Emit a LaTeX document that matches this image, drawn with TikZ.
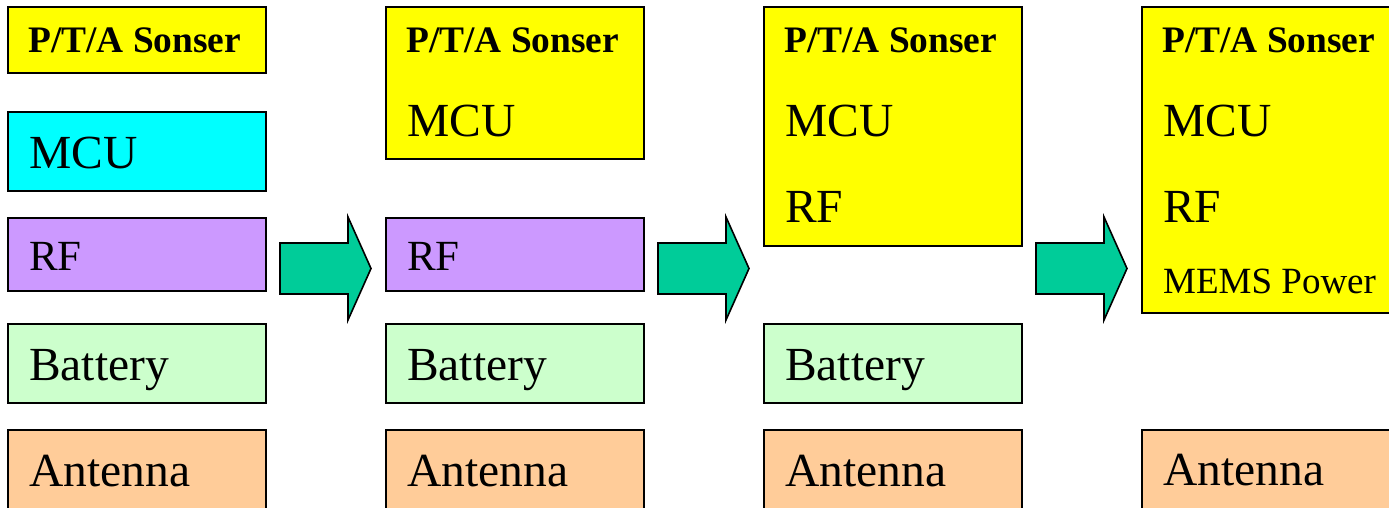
\documentclass[tikz,border=0pt]{standalone}
\usepackage{fontspec}
\setmainfont{Liberation Serif}
\definecolor{cyellow}{HTML}{FFFF00}
\definecolor{ccyan}{HTML}{00FFFF}
\definecolor{cpurple}{HTML}{CC99FF}
\definecolor{cgreen}{HTML}{CCFFCC}
\definecolor{corange}{HTML}{FFCC99}
\definecolor{carrow}{HTML}{00CC99}
\tikzset{
  blk/.style={draw=black, line width=1.6pt, rectangle, anchor=north west, inner sep=0pt, minimum width=258pt},
  big/.style={anchor=base west, inner sep=0pt, font=\fontsize{47.5}{47.5}\selectfont},
  mid/.style={anchor=base west, inner sep=0pt, font=\fontsize{43}{43}\selectfont},
  small/.style={anchor=base west, inner sep=0pt, font=\fontsize{37}{37}\selectfont},
  bld/.style={anchor=base west, inner sep=0pt, font=\fontsize{37.4}{37.4}\selectfont\bfseries},
  fatarrow/.style={draw=black, line width=1.6pt, fill=carrow, line join=miter}
}
\begin{document}
\begin{tikzpicture}[x=1pt,y=-1pt]
\clip (0,0) rectangle (1389,508);
\fill[white] (0,0) rectangle (1389,508);
% column 1
\node[blk, fill=cyellow, minimum height=66pt] (s1) at (7,6) {};
\node[blk, fill=ccyan, minimum height=79pt] (m1) at (7,111) {};
\node[blk, fill=cpurple, minimum height=73pt] (r1) at (7,217) {};
\node[blk, fill=cgreen, minimum height=79pt] (b1) at (7,323) {};
\node[blk, fill=corange, minimum height=90pt] (a1) at (7,429) {};
\node[bld] (s1t) at (28,53) {P/T/A Sonser};
\node[big] (m1t) at (29,168) {MCU};
\node[mid] (r1t) at (29,270) {RF};
\node[big] (b1t) at (29,380) {Battery};
\node[big] (a1t) at (29,486) {Antenna};
% column 2
\node[blk, fill=cyellow, minimum height=152pt] (s2) at (385,6) {};
\node[blk, fill=cpurple, minimum height=73pt] (r2) at (385,217) {};
\node[blk, fill=cgreen, minimum height=79pt] (b2) at (385,323) {};
\node[blk, fill=corange, minimum height=90pt] (a2) at (385,429) {};
\node[bld] (s2t) at (406,53) {P/T/A Sonser};
\node[big] (m2t) at (407,137) {MCU};
\node[mid] (r2t) at (407,270) {RF};
\node[big] (b2t) at (407,380) {Battery};
\node[big] (a2t) at (407,486) {Antenna};
% column 3
\node[blk, fill=cyellow, minimum height=239pt] (s3) at (763,6) {};
\node[blk, fill=cgreen, minimum height=79pt] (b3) at (763,323) {};
\node[blk, fill=corange, minimum height=90pt] (a3) at (763,429) {};
\node[bld] (s3t) at (784,53) {P/T/A Sonser};
\node[big] (m3t) at (785,136) {MCU};
\node[big] (r3t) at (785,222) {RF};
\node[big] (b3t) at (785,380) {Battery};
\node[big] (a3t) at (785,486) {Antenna};
% column 4
\node[blk, fill=cyellow, minimum height=306pt] (s4) at (1141,6) {};
\node[blk, fill=corange, minimum height=90pt] (a4) at (1141,429) {};
\node[bld] (s4t) at (1162,53) {P/T/A Sonser};
\node[big] (m4t) at (1163,136) {MCU};
\node[big] (r4t) at (1163,222) {RF};
\node[small] (p4t) at (1163,293) {MEMS Power};
\node[big] (a4t) at (1163,485) {Antenna};
% arrows
\foreach \x/\n in {280/1,658/2,1036/3}{
  \draw[fatarrow] (\x,243) -- (\x+68,243) -- (\x+68,217) -- (\x+91,268.5)
     -- (\x+68,320) -- (\x+68,294) -- (\x,294) -- cycle;
}
\end{tikzpicture}
\end{document}
